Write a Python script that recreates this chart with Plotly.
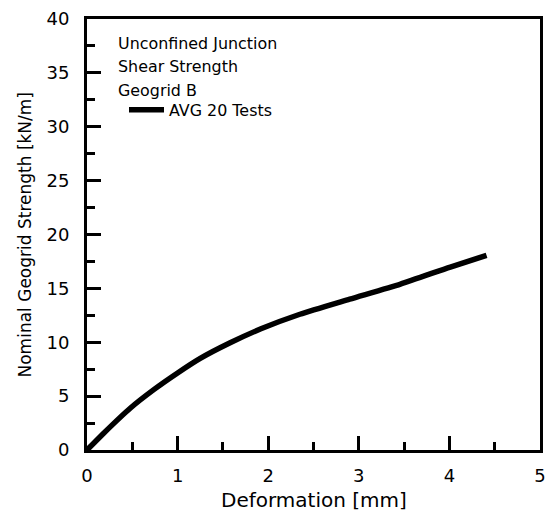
import plotly.graph_objects as go

deformation = [0.0, 0.184, 0.48, 0.737, 1.0, 1.25, 1.58, 1.92, 2.35, 2.90, 3.46, 4.01, 4.41]
strength = [0.0, 1.56, 3.9, 5.6, 7.15, 8.5, 9.95, 11.25, 12.6, 14.0, 15.4, 16.98, 18.07]
series_name = "AVG 20 Tests"
notes = ["Unconfined Junction", "Shear Strength", "Geogrid B"]
x_title = "Deformation [mm]"
y_title = "Nominal Geogrid Strength [kN/m]"

FONT = "DejaVu Sans"
OFF = 8  # default page body margin
L, R, T, B = 79, 15, 11, 74
W, H = 547, 516
PW, PH = W - L - R, H - T - B

def px_y(py):
    return (H - B - (py - OFF)) / PH

def px_x(px):
    return (px - OFF - L) / PW

fig = go.Figure()
fig.add_trace(go.Scatter(x=deformation, y=strength, mode="lines", name=series_name,
                         line=dict(color="black", width=5.5, shape="spline", smoothing=0.6),
                         hoverinfo="skip"))

for i, t in enumerate(notes):
    fig.add_annotation(x=px_x(116), y=px_y(43 + i * 23.5), xref="paper", yref="paper", text=t,
                       showarrow=False, xanchor="left", yanchor="middle",
                       font=dict(family=FONT, size=15.9, color="black"))

fig.add_annotation(x=0.5, y=px_y(500), xref="paper", yref="paper", text=x_title, showarrow=False,
                   xanchor="center", yanchor="middle", font=dict(family=FONT, size=20, color="black"))
fig.add_annotation(x=px_x(24), y=0.5, xref="paper", yref="paper", text=y_title, showarrow=False,
                   textangle=-90, xanchor="center", yanchor="middle",
                   font=dict(family=FONT, size=17, color="black"))

axis_common = dict(showgrid=False, zeroline=False, showline=True, linecolor="black", linewidth=3,
                   mirror=True, ticks="inside", tickcolor="black", tickwidth=3, ticklen=14,
                   automargin=False,
                   tickfont=dict(family=FONT, size=18, color="black"),
                   minor=dict(ticks="inside", ticklen=8, tickwidth=3, tickcolor="black"))

fig.update_xaxes(range=[0, 5], dtick=1, minor_dtick=0.5, ticklabelstandoff=7, **axis_common)
fig.update_yaxes(range=[0, 40], dtick=5, minor_dtick=2.5, ticklabelstandoff=11, **axis_common)

fig.update_layout(width=W, height=H, margin=dict(l=L, r=R, t=T, b=B),
                  plot_bgcolor="white", paper_bgcolor="white", showlegend=True,
                  legend=dict(x=px_x(124), y=px_y(110), xanchor="left", yanchor="middle",
                              bgcolor="rgba(0,0,0,0)", itemwidth=35,
                              font=dict(family=FONT, size=15.9, color="black")))

fig.write_html("out.html")
